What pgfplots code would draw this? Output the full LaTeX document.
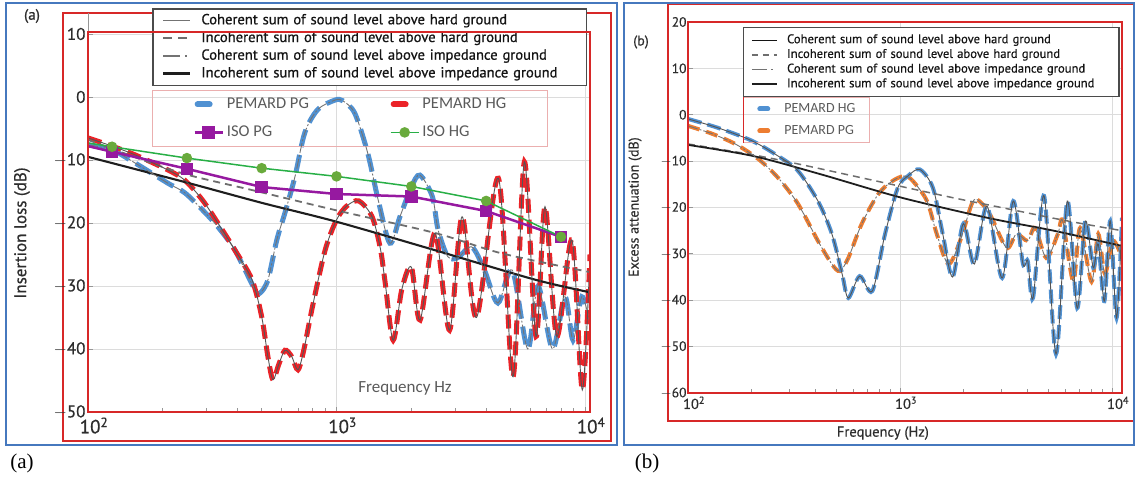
\documentclass[border=0pt]{standalone}
\usepackage{fontspec}
\setmainfont{PT Sans}
\newfontfamily\gillb[FakeBold=0.7]{PT Sans}
\newfontfamily\gillc[FakeBold=0.4]{PT Sans}
\newfontfamily\calfont{Carlito}
\newfontfamily\serffont{Liberation Serif}
\usepackage{pgfplots}
\usepackage{pgfplotstable}
\pgfplotsset{compat=1.18}

\definecolor{pblue}{RGB}{80,145,210}
\definecolor{pred}{RGB}{235,35,40}
\definecolor{porange}{RGB}{237,125,49}
\definecolor{ppurple}{RGB}{150,25,160}
\definecolor{pgreen}{RGB}{40,175,70}
\definecolor{pgreenm}{RGB}{105,170,60}
\definecolor{boxred}{RGB}{215,40,40}
\definecolor{frameblue}{RGB}{70,120,190}
\definecolor{gridc}{RGB}{220,220,220}
\definecolor{lpink}{RGB}{235,175,175}
\definecolor{tickc}{RGB}{45,45,45}
\definecolor{labgray}{RGB}{90,90,90}
\definecolor{legtext}{RGB}{20,20,20}
\definecolor{legdark}{RGB}{75,75,75}
\definecolor{axisc}{RGB}{150,150,150}
\definecolor{cohHc}{RGB}{85,85,85}
\definecolor{cohIc}{RGB}{115,115,115}
\definecolor{incHc}{RGB}{110,110,110}
\definecolor{incIc}{RGB}{30,30,30}

\pgfplotstableread{
f y
100 -6.5
125 -7.8
155 -9.2
210 -11.6
245 -13.2
288 -16.3
333 -20
390 -24.3
457 -29
500 -34.9
530 -41.3
555 -44.9
585 -42.5
620 -40.2
660 -41.2
700 -43.3
740 -40
800 -33.3
900 -24.3
1000 -19.5
1100 -17.3
1230 -16.5
1390 -19
1500 -24
1570 -29.5
1690 -38.6
1830 -30.6
2000 -27
2170 -35.4
2490 -21.6
2850 -37
3200 -19
3660 -35
4480 -12.9
5130 -44.4
5700 -10.3
6350 -38
6900 -17.4
7700 -38
8860 -22.7
9750 -46.5
10471 -25
}\redA

\pgfplotstableread{
f y
100 -7.6
125 -8.4
155 -10.5
210 -13.7
245 -15.2
290 -18
333 -20.6
390 -24.3
470 -30.6
493 -31.1
530 -29
575 -22.7
620 -18.4
680 -12.7
745 -5.7
840 -2
985 -0.5
1060 -0.6
1185 -2.6
1335 -8.9
1470 -16.3
1640 -23.2
1800 -19
2000 -14.3
2165 -12.4
2430 -15.8
2560 -21
2800 -25.3
3075 -25.5
3500 -23.8
3940 -27.5
4460 -32.7
5100 -27.5
5880 -40
6470 -30
7400 -40
8300 -31.7
8950 -38.6
9700 -31.7
10471 -36
}\blueA

\pgfplotstableread{
f y
100 -6.8
180 -10.5
260 -12.5
460 -14.8
1000 -18
2500 -21.6
4600 -24.8
10471 -27.8
}\incHA

\pgfplotstableread{
f y
100 -9.5
245 -13.5
500 -16.8
1000 -19.8
2480 -24.3
6300 -29
10471 -31
}\incIA

\pgfplotstableread{
f y
100 -7.8
125 -8.7
250 -11.4
500 -14.3
1000 -15.4
2000 -15.8
4000 -18.1
8000 -22.2
}\isoPG

\pgfplotstableread{
f y
100 -7.3
125 -7.9
250 -9.7
500 -11.3
1000 -12.6
2000 -14.2
4000 -16.5
8000 -22.2
}\isoHG

\pgfplotstableread{
f y
100 -0.9
138 -2.8
200 -5.6
266 -8.9
330 -12.1
410 -18.6
477 -25.7
533 -34.3
570 -39.5
645 -34.8
740 -38
850 -25.7
975 -15.8
1090 -13.2
1240 -11.8
1430 -15.8
1590 -25.7
1770 -35
1990 -23.5
2240 -32.2
2570 -19.7
3030 -35.2
3420 -18.6
3800 -32.2
4000 -31.5
4240 -39.5
4780 -17.5
5440 -51.6
6150 -18.6
6850 -41.7
7480 -22.9
8150 -33
8610 -27.9
9200 -40.2
9800 -22.9
10500 -43.8
11140 -22.2
}\blueB

\pgfplotstableread{
f y
100 -2.4
130 -4.1
167 -6.3
214 -9.5
266 -13.6
330 -19.2
410 -27.2
477 -32.2
520 -33.7
570 -30.9
660 -23.5
790 -17.1
920 -14.3
1050 -13.2
1150 -14.3
1340 -18.6
1490 -25.7
1690 -32.2
1920 -27.2
2180 -19.2
2330 -18.4
2650 -21.4
3180 -28.7
3540 -25.7
4000 -27.2
4330 -24.4
4900 -30.9
5550 -25.7
5850 -22.9
6560 -35.9
7070 -24.4
8000 -36
8600 -25.7
9250 -34.3
10100 -27.2
11140 -30.9
}\orangeB

\pgfplotstableread{
f y
100 -6.3
200 -8.6
330 -10.6
830 -14.6
1780 -17.9
3000 -20
6000 -22.8
11140 -25
}\incHB

\pgfplotstableread{
f y
100 -6.5
203 -8.9
420 -12.8
1000 -17.8
2570 -22.2
5300 -25
11140 -28.3
}\incIB

\pgfplotsset{
  cohH/.style={color=cohHc, line width=0.9pt, solid, smooth, no markers},
  cohI/.style={color=cohIc, line width=0.9pt, dash pattern=on 10pt off 2pt on 2pt off 2pt, smooth, no markers},
  incH/.style={color=incHc, line width=1.8pt, dash pattern=on 7pt off 5pt, smooth, no markers},
  incI/.style={color=incIc, line width=2.1pt, solid, smooth, no markers},
}

\begin{document}
\begin{tikzpicture}
\path[use as bounding box] (0pt,0pt) rectangle (1135pt,-479pt);

% outer frames first, so that tick labels lie on top of them
\draw[boxred, line width=1.5pt] (63pt,-13pt) rectangle (611pt,-441pt);
\draw[boxred, line width=1.5pt] (668pt,-4pt) rectangle (1145pt,-421pt);
\draw[frameblue, line width=2.2pt] (6pt,-3pt) rectangle (617pt,-445pt);
\draw[frameblue, line width=2.2pt] (624pt,-3pt) rectangle (1134pt,-445pt);

% ================= PANEL (a) =================
\begin{axis}[at={(88pt,-412pt)}, anchor=south west, width=502pt, height=399pt,
  scale only axis, xmode=log, xmin=100, xmax=10471, ymin=-50, ymax=13.33,
  axis x line*=bottom, axis y line*=left,
  axis line style={axisc, line width=0.8pt},
  xtick={100,1000,10000},
  xticklabels={10\textsuperscript{2},10\textsuperscript{3},10\textsuperscript{4}},
  minor xtick={200,300,400,500,600,700,800,900,2000,3000,4000,5000,6000,7000,8000,9000},
  xmajorgrids, ymajorgrids, grid style={gridc, line width=0.7pt},
  tick style={axisc, line width=0.8pt}, major tick length=5pt, minor tick length=4pt,
  tick align=inside,
  ytick={-50,-40,-30,-20,-10,0,10},
  yticklabels={{$-$50},{$-$40},{$-$30},{$-$20},{$-$10},{0},{10}},
  yticklabel style={font=\gillb\fontsize{17}{17}\selectfont, text=tickc, xshift=1pt},
  xticklabel style={font=\gillb\fontsize{19}{19}\selectfont, text=tickc, xshift=6pt, yshift=-2pt},
  ylabel={Insertion loss (dB)},
  ylabel style={at={(axis description cs:-0.1315,0.4486)}, anchor=center, font=\gillb\fontsize{17}{17}\selectfont, text=tickc},
  xlabel={Frequency Hz},
  xlabel style={at={(axis description cs:0.6315,0.06)}, anchor=center, font=\calfont\fontsize{17}{17}\selectfont, text=labgray},
  legend columns=2,
  legend style={at={(0.1275,0.807)}, anchor=north west, draw=lpink, line width=0.8pt, fill=none,
    inner xsep=41pt, inner ysep=6pt, font=\calfont\fontsize{16.5}{16.5}\selectfont, text=labgray,
    nodes={inner sep=0pt, text height=12pt, text depth=4pt, anchor=west},
    row sep=12pt, column sep=0pt,
    /tikz/every odd column/.append style={column sep=3pt},
    /tikz/every even column/.append style={column sep=81pt}},
]
\addlegendimage{legend image code/.code={\draw[pblue,line width=6pt,line cap=round] (3pt,0pt)--(15pt,0pt);}}
\addlegendentry{PEMARD PG}
\addlegendimage{legend image code/.code={\draw[pred,line width=6pt,line cap=round] (3pt,0pt)--(15pt,0pt);}}
\addlegendentry{PEMARD HG}
\addlegendimage{legend image code/.code={\draw[ppurple,line width=2.5pt,mark=square*,mark size=5pt,mark repeat=2,mark phase=2] plot coordinates {(0pt,0pt)(14pt,0pt)(28pt,0pt)};}}
\addlegendentry{ISO PG}
\addlegendimage{legend image code/.code={\draw[pgreen,line width=1.5pt,mark=*,mark size=4.5pt,mark options={fill=pgreenm,draw=pgreenm},mark repeat=2,mark phase=2] plot coordinates {(0pt,0pt)(14pt,0pt)(28pt,0pt)};}}
\addlegendentry{ISO HG}
\addplot[pblue, line width=5pt, dash pattern=on 18pt off 8pt, smooth, forget plot] table {\blueA};
\addplot[pred, line width=5pt, dash pattern=on 14pt off 7pt, smooth, forget plot] table {\redA};
\end{axis}

\begin{axis}[at={(88pt,-412pt)}, anchor=south west, width=502pt, height=399pt,
  scale only axis, xmode=log, xmin=100, xmax=10471, ymin=-50, ymax=13.33, hide axis,
  legend style={at={(0.1275,1.0125)}, anchor=north west, draw=legdark, line width=1.6pt, fill=white,
    inner xsep=9pt, inner ysep=4pt, font=\gillb\fontsize{14.6}{14.6}\selectfont, text=legtext,
    nodes={inner sep=0pt, text height=11.5pt, text depth=4.2pt, anchor=west, text width=376pt},
    row sep=2pt, column sep=0pt,
    /tikz/every odd column/.append style={column sep=10pt}},
]
\addlegendimage{legend image code/.code={\draw[cohIc,line width=1.3pt] (0pt,0pt)--(27pt,0pt);}}
\addlegendentry{Coherent sum of sound level above hard ground}
\addlegendimage{legend image code/.code={\draw[incHc,line width=2pt,dash pattern=on 9pt off 6pt] (0pt,0pt)--(27pt,0pt);}}
\addlegendentry{Incoherent sum of sound level above hard ground}
\addlegendimage{legend image code/.code={\draw[cohIc,line width=1.3pt,dash pattern=on 17pt off 5pt on 2pt off 10pt] (0pt,0pt)--(27pt,0pt);}}
\addlegendentry{Coherent sum of sound level above impedance ground}
\addlegendimage{legend image code/.code={\draw[incIc,line width=2.6pt] (0pt,0pt)--(27pt,0pt);}}
\addlegendentry{Incoherent sum of sound level above impedance ground}
\addplot[incH, forget plot] table {\incHA};
\addplot[incI, forget plot] table {\incIA};
\addplot[cohI, forget plot] table {\blueA};
\addplot[cohH, forget plot] table {\redA};
\end{axis}

\begin{axis}[at={(88pt,-412pt)}, anchor=south west, width=502pt, height=399pt,
  scale only axis, xmode=log, xmin=100, xmax=10471, ymin=-50, ymax=13.33, hide axis]
\addplot[ppurple, line width=2.5pt, mark=square*, mark size=5pt, mark indices={2,3,4,5,6,7,8}] table {\isoPG};
\addplot[pgreen, line width=1.5pt, mark=*, mark size=4.5pt, mark options={fill=pgreenm, draw=pgreenm}, mark indices={2,3,4,5,6,7,8}] table {\isoHG};
\end{axis}

% ================= PANEL (b) =================
\begin{axis}[at={(688pt,-393pt)}, anchor=south west, width=434pt, height=371pt,
  scale only axis, xmode=log, xmin=100, xmax=11140, ymin=-60, ymax=20,
  axis x line*=bottom, axis y line*=left,
  axis line style={axisc, line width=0.8pt},
  xtick={100,1000,10000},
  xticklabels={10\textsuperscript{2},10\textsuperscript{3},10\textsuperscript{4}},
  minor xtick={200,300,400,500,600,700,800,900,2000,3000,4000,5000,6000,7000,8000,9000},
  xmajorgrids, ymajorgrids, grid style={gridc, line width=0.7pt},
  tick style={axisc, line width=0.8pt}, major tick length=5pt, minor tick length=4pt,
  tick align=inside,
  ytick={-60,-50,-40,-30,-20,-10,0,10,20},
  yticklabels={{$-$60},{$-$50},{$-$40},{$-$30},{$-$20},{$-$10},{0},{10},{20}},
  yticklabel style={font=\gillc\fontsize{13.5}{13.5}\selectfont, text=tickc, xshift=2pt},
  xticklabel style={font=\gillc\fontsize{14.5}{14.5}\selectfont, text=tickc, xshift=6pt},
  ylabel={Excess attenuation (dB)},
  ylabel style={at={(axis description cs:-0.122,0.501)}, anchor=center, font=\gillc\fontsize{14}{14}\selectfont, text=tickc},
  xlabel={Frequency (Hz)},
  xlabel style={at={(axis description cs:0.449,-0.108)}, anchor=center, font=\gillc\fontsize{14.5}{14.5}\selectfont, text=tickc},
  legend style={at={(0.1267,0.798)}, anchor=north west, draw=lpink, line width=0.6pt, fill=none,
    inner xsep=14pt, inner ysep=5pt, font=\calfont\fontsize{14}{14}\selectfont, text=labgray,
    nodes={inner sep=0pt, text height=10pt, text depth=3.5pt, anchor=west},
    row sep=8.5pt, column sep=0pt,
    /tikz/every odd column/.append style={column sep=14pt}},
]
\addlegendimage{legend image code/.code={\draw[pblue,line width=5pt,line cap=round] (2.5pt,0pt)--(10.5pt,0pt);}}
\addlegendentry{PEMARD HG}
\addlegendimage{legend image code/.code={\draw[porange,line width=5pt,line cap=round] (2.5pt,0pt)--(10.5pt,0pt);}}
\addlegendentry{PEMARD PG}
\addplot[porange, line width=4pt, dash pattern=on 12pt off 7pt, smooth, forget plot] table {\orangeB};
\addplot[pblue, line width=4pt, dash pattern=on 14pt off 6pt, smooth, forget plot] table {\blueB};
\end{axis}

\begin{axis}[at={(688pt,-393pt)}, anchor=south west, width=434pt, height=371pt,
  scale only axis, xmode=log, xmin=100, xmax=11140, ymin=-60, ymax=20, hide axis,
  legend style={at={(0.1267,0.9865)}, anchor=north west, draw=legdark, line width=1.4pt, fill=white,
    inner xsep=7pt, inner ysep=6pt, font=\gillc\fontsize{12.6}{12.6}\selectfont, text=legtext,
    nodes={inner sep=0pt, text height=9.5pt, text depth=3.2pt, anchor=west, text width=325pt},
    row sep=2pt, column sep=0pt,
    /tikz/every odd column/.append style={column sep=9pt}},
]
\addlegendimage{legend image code/.code={\draw[legtext,line width=1.1pt] (0pt,0pt)--(25pt,0pt);}}
\addlegendentry{Coherent sum of sound level above hard ground}
\addlegendimage{legend image code/.code={\draw[incHc,line width=1.6pt,dash pattern=on 6pt off 5pt] (0pt,0pt)--(25pt,0pt);}}
\addlegendentry{Incoherent sum of sound level above hard ground}
\addlegendimage{legend image code/.code={\draw[cohIc,line width=1.2pt,dash pattern=on 15pt off 4pt on 2pt off 8pt] (0pt,0pt)--(25pt,0pt);}}
\addlegendentry{Coherent sum of sound level above impedance ground}
\addlegendimage{legend image code/.code={\draw[incIc,line width=2.4pt] (0pt,0pt)--(25pt,0pt);}}
\addlegendentry{Incoherent sum of sound level above impedance ground}
\addplot[incH, line width=1.5pt, forget plot] table {\incHB};
\addplot[incI, line width=1.8pt, forget plot] table {\incIB};
\addplot[cohI, forget plot] table {\orangeB};
\addplot[cohH, forget plot] table {\blueB};
\end{axis}

% inner plot-area frames on top
\draw[boxred, line width=1.5pt] (88pt,-32pt) rectangle (590pt,-412pt);
\draw[boxred, line width=1.5pt] (688pt,-22pt) rectangle (1122pt,-393pt);
\draw[boxred, line width=0.8pt] (743pt,-97pt) -- (743pt,-143pt);

\node[font=\gillb\fontsize{15}{15}\selectfont, text=tickc] at (32pt,-16pt) {(a)};
\node[font=\gillb\fontsize{14}{14}\selectfont, text=tickc] at (641pt,-42pt) {(b)};
\node[font=\serffont\fontsize{21}{21}\selectfont] at (22pt,-463pt) {(a)};
\node[font=\serffont\fontsize{21}{21}\selectfont] at (647pt,-463pt) {(b)};
\end{tikzpicture}
\end{document}
